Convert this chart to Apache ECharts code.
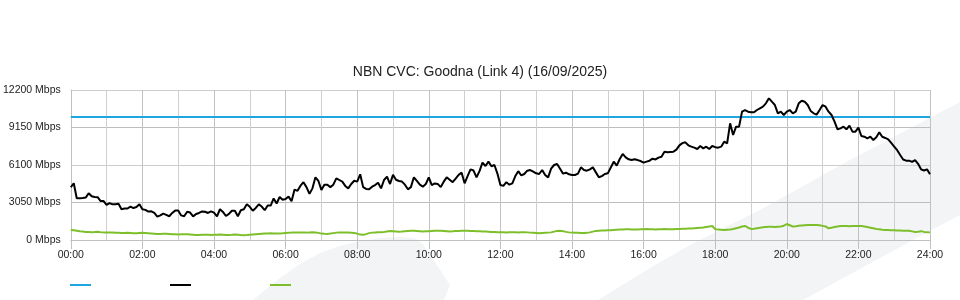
<!DOCTYPE html>
<html><head><meta charset="utf-8">
<script src="https://cdn.jsdelivr.net/npm/echarts@6/dist/echarts.min.js"></script>
<style>html,body{margin:0;padding:0;background:#fff}#c{width:960px;height:300px}</style>
</head><body><div id="c"></div>
<script>
const chartTitle = 'NBN CVC: Goodna (Link 4) (16/09/2025)';
const stepMinutes = 5;
const seriesNames = ['Capacity', 'Download', 'Upload'];
const seriesColors = ['#1fa5e0', '#000000', '#7dbf2a'];
const capacityMinutes = [0, 1440];
const capacityMbps = [10000, 10000];
const downloadMbps = [
  4290,4610,3400,3400,3420,3450,3800,3560,3500,3480,3170,3170,
  2850,3000,2900,2900,2950,2500,2560,2560,2720,2600,2680,2900,
  2500,2450,2310,2330,2200,1900,2000,2150,2040,1930,2200,2390,
  2400,2000,1930,2300,2230,1920,2120,2200,2320,2300,2200,2330,
  2220,1930,2500,2280,1950,2120,2380,2380,1930,2420,2500,2900,
  2700,2380,2610,2900,2720,2420,2800,2800,3380,2970,3500,3280,
  3330,3530,3150,4100,4000,4420,4700,4300,3750,4200,5100,4800,
  4070,4500,4500,4300,4500,5015,4880,4745,4400,4200,4555,4820,
  4750,5340,4300,4150,4120,4338,4470,4663,4200,4880,5150,4550,
  5300,4900,4800,4750,4500,4121,4300,5100,4800,4500,4338,4555,
  5096,4470,4600,4560,4300,4745,5096,4900,4700,5000,5300,5476,
  4610,5200,5747,5650,5100,5600,6300,6018,6371,6000,6100,5400,
  4473,4400,4700,4500,4610,5200,5600,5250,5368,5639,5693,5560,
  5422,5368,5693,5287,5096,5800,6100,6181,5800,5400,5476,5340,
  5287,5287,5400,5910,5700,5639,5747,5910,5500,5100,5200,5368,
  5422,5900,6371,6050,6588,7000,6723,6560,6506,6561,6500,6425,
  6290,6371,6450,6614,6550,6700,6777,7184,7130,7160,7184,7350,
  7700,7880,7943,7700,7591,7510,7401,7645,7455,7591,7401,7645,
  7550,7510,7591,7997,7862,9489,8540,9217,9217,10438,10573,10438,
  10384,10384,10573,10710,10845,11115,11523,11250,10980,10302,10438,10166,
  10438,10573,10302,10438,11115,11330,11250,10980,10500,10302,10200,10573,
  10980,10845,10438,10166,9624,9000,9082,9217,9000,9300,8810,8810,
  9136,8458,8404,8269,8404,8133,8350,8756,8400,8300,8187,7900,
  7600,7300,6913,6550,6452,6452,6350,6500,6200,5750,5650,5747,
  5340
];
const uploadMbps = [
  810,790,760,720,690,660,650,640,650,680,640,620,
  610,600,610,590,580,560,570,580,560,540,550,570,
  580,560,540,520,500,480,490,500,510,490,470,460,
  450,460,470,460,440,420,400,410,420,430,420,410,
  420,430,440,420,400,410,420,440,420,400,390,400,
  420,440,460,480,500,520,530,540,530,520,530,540,
  560,580,600,610,620,620,610,600,620,630,610,580,
  520,500,490,520,560,600,620,620,610,600,590,570,
  520,440,420,480,560,600,620,630,640,650,700,730,
  720,700,680,690,710,730,750,760,740,720,700,710,
  720,740,750,760,750,740,720,700,710,730,740,750,
  760,750,740,730,720,710,700,690,680,660,650,640,
  640,630,620,630,640,630,620,630,640,620,600,580,
  560,540,560,580,600,620,680,740,760,720,660,620,
  600,590,580,570,560,580,620,680,740,760,770,780,
  790,800,820,840,850,860,870,870,860,850,860,870,
  880,890,880,870,860,870,880,890,880,870,880,890,
  900,910,920,930,940,960,980,1000,1020,1060,1100,1140,
  880,860,840,820,840,860,900,960,1020,1100,1140,1000,
  900,920,960,1000,1040,1060,1080,1070,1060,1080,1100,1160,
  1300,1200,1100,1120,1150,1180,1200,1210,1220,1220,1210,1200,
  1150,1100,950,1000,1050,1100,1140,1140,1130,1120,1130,1140,
  1140,1130,1100,1050,1000,950,900,870,840,820,810,800,
  790,780,770,760,760,750,700,650,680,720,660,640,
  620
];
const xTickLabels = ['00:00','02:00','04:00','06:00','08:00','10:00','12:00','14:00','16:00','18:00','20:00','22:00','24:00'];
const yTickValues = [0, 3050, 6100, 9150, 12200];
const yUnit = ' Mbps';

const FONT = "'Liberation Sans', Arial, Helvetica, sans-serif";
const toPairs = (vals, step) => vals.map((v, i) => [i * step, v]);

const chart = echarts.init(document.getElementById('c'), null, {renderer: 'canvas'});
const legendBase = (i) => ({
  data: [seriesNames[i]], left: 70 + i * 100, top: 284, orient: 'horizontal', padding: 0,
  icon: 'rect', itemWidth: 21, itemHeight: 2, selectedMode: false,
  formatter: () => '', textStyle: {fontSize: 10, fontFamily: FONT}
});
chart.setOption({
  animation: false,
  backgroundColor: '#ffffff',
  title: {
    text: chartTitle, left: 'center', top: 60,
    textStyle: {fontFamily: FONT, fontSize: 14, fontWeight: 'normal', color: '#222'}
  },
  graphic: [
    {type: 'polygon', z: -100, silent: true,
     shape: {points: [[253,300],[265,290],[280,278],[300,264],[320,253],[340,246],[360,241],[380,238],[400,237],[414,238],[422,243],[435,262],[450,285],[444,300]]},
     style: {fill: '#f3f4f6'}},
    {type: 'polygon', z: -100, silent: true,
     shape: {points: [[598,300],[650,268],[690,245],[760,210],[850,160],[960,102],[960,215],[913,240],[803,300]]},
     style: {fill: '#f3f4f6'}}
  ],
  legend: [legendBase(0), legendBase(1), legendBase(2)],
  grid: {left: 70, right: 30, top: 90, bottom: 60, containLabel: false},
  xAxis: {
    type: 'value', min: 0, max: 1440, interval: 120,
    axisLine: {show: true, lineStyle: {color: '#c0c0c0', width: 1}},
    axisTick: {show: true, length: 9, lineStyle: {color: '#c0c0c0'}},
    axisLabel: {fontFamily: FONT, fontSize: 10.5, color: '#222', margin: 10,
      formatter: (v) => xTickLabels[Math.round(v / 120)] || ''},
    splitLine: {show: true, lineStyle: {color: '#c2c2c2', width: 1}},
    minorTick: {show: false, splitNumber: 2},
    minorSplitLine: {show: true, lineStyle: {color: '#cfcfcf', width: 1}}
  },
  yAxis: {
    type: 'value', min: yTickValues[0], max: yTickValues[yTickValues.length - 1], interval: 3050,
    axisLine: {show: true, lineStyle: {color: '#c0c0c0'}},
    axisTick: {show: false},
    axisLabel: {fontFamily: FONT, fontSize: 10.5, color: '#222', margin: 10,
      formatter: (v) => v + yUnit},
    splitLine: {show: true, lineStyle: {color: ['#cccccc', '#bdbdbd'], width: 1}}
  },
  series: [
    {name: seriesNames[0], type: 'line', showSymbol: false, silent: true,
     data: capacityMinutes.map((m, i) => [m, capacityMbps[i]]),
     lineStyle: {color: seriesColors[0], width: 2}, itemStyle: {color: seriesColors[0]}},
    {name: seriesNames[1], type: 'line', showSymbol: false, silent: true,
     data: toPairs(downloadMbps, stepMinutes),
     lineStyle: {color: seriesColors[1], width: 2}, itemStyle: {color: seriesColors[1]}},
    {name: seriesNames[2], type: 'line', showSymbol: false, silent: true,
     data: toPairs(uploadMbps, stepMinutes),
     lineStyle: {color: seriesColors[2], width: 2}, itemStyle: {color: seriesColors[2]}}
  ]
});
</script>
</body></html>
